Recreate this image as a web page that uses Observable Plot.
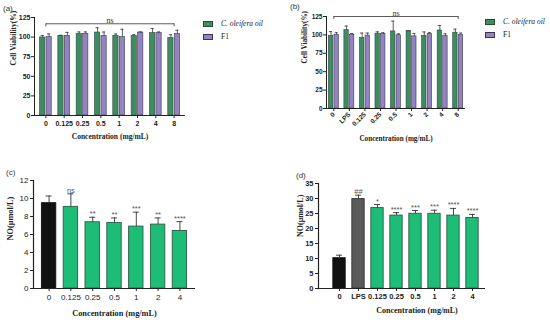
<!DOCTYPE html>
<html><head><meta charset="utf-8">
<script src="https://cdn.jsdelivr.net/npm/d3@7"></script>
<script src="https://cdn.jsdelivr.net/npm/@observablehq/plot@0.6"></script>
<style>
body{margin:0;background:#fff;width:550px;height:323px;position:relative;overflow:hidden;font-family:"Liberation Sans",Arial,sans-serif}
.panel{position:absolute}
.panel svg{overflow:visible}
.tag{position:absolute;font-size:8px;color:#333;font-family:"Liberation Sans",Arial,sans-serif}
.legend{position:absolute;font-family:"Liberation Serif","Times New Roman",serif;font-size:7.5px;color:#222;line-height:12.5px;white-space:nowrap}
.sw{display:inline-block;width:8px;height:4px;margin-right:8px;vertical-align:middle;border:0.8px solid #333}
</style></head><body>
<div class="tag" style="left:3px;top:4px">(a)</div>
<div class="tag" style="left:290px;top:2px">(b)</div>
<div class="tag" style="left:6px;top:168px">(c)</div>
<div class="tag" style="left:296px;top:171px">(d)</div>
<div id="pa" class="panel" style="left:0;top:0"></div>
<div id="pb" class="panel" style="left:275px;top:0"></div>
<div id="pc" class="panel" style="left:0;top:160px"></div>
<div id="pd" class="panel" style="left:275px;top:160px"></div>
<div id="la" class="legend" style="left:203px;top:18px"></div>
<div id="lb" class="legend" style="left:485px;top:16px"></div>
<script>
// ---------- data ----------
const seriesNames = ["C. oleifera oil", "F1"];

const concA = ["0","0.125","0.25","0.5","1","2","4","8"];
const oilA = [99.5,101.5,104,105.8,101.5,101.5,105,99];
const oilAErr = [2.5,0.8,2.6,6.2,2.5,1.5,6,4];
const f1A = [100,101.5,104,101.5,100,105.8,105,103.7];
const f1AErr = [4,4.5,2.6,5,10,0.8,1.6,5];
const ticksA = [0,25,50,75,100,125];
const bracketA = {from:"0", to:"8", y:117, tick:113, ty:121.5, label:"ns"};

const concB = ["0","LPS","0.125","0.25","0.5","1","2","4","8"];
const oilB = [98.5,106.5,96,101.7,104.7,105.1,98.8,106,103];
const oilBErr = [6,5.5,6.5,2.5,14,0.5,5.2,6.8,4.8];
const f1B = [100,100,99,101,99.5,98,101,98.5,100];
const f1BErr = [3,2,3.5,2,2,4,2,3,2.5];
const ticksB = [0,25,50,75,100,125];
const bracketB = {from:"0", to:"8", y:125, tick:121, ty:129, label:"ns"};

const concC = ["0","0.125","0.25","0.5","1","2","4"];
const noC = [9.48,9.07,7.36,7.29,6.88,7.1,6.39];
const noCErr = [0.8,1.45,0.56,0.55,1.6,0.74,1.04];
const sigC = ["","ns","**","**","***","**","****"];
const ticksC = [0,2,4,6,8,10,12];

const concD = ["0","LPS","0.125","0.25","0.5","1","2","4"];
const noD = [10.1,29.8,26.8,24.3,24.9,24.9,24.3,23.5];
const noDErr = [1.0,1.3,1.2,1.0,1.1,1.2,2.4,1.2];
const sigD = ["","##","*","****","***","***","****","****"];
const ticksD = [0,5,10,15,20,25,30,35];

const xTitle = "Concentration (mg/mL)";
const yTitleAB = "Cell Viability(%)";
const yTitleCD = "NO(μmol/L)";

// ---------- styles ----------
const SANS = "Liberation Sans, Arial, sans-serif";
const SERIF = "Liberation Serif, Times New Roman, serif";
const GREEN = "#3f8c63", GREEN_D = "#2a4a38";
const PURPLE = "#9384bf", PURPLE_D = "#3b3552";
const GREEN2 = "#1dbd78", GREEN2_D = "#2f5c45";
const BLACK = "#111", GRAY = "#5a5a5a";

function groupedPanel(p) {
  const n = p.conc.length;
  const step = (p.width - p.ml - p.mr) / (n - p.pi + 2 * p.po);
  const bw = step * (1 - p.pi);
  const barW = (bw - 1.2) / 2;
  const off = (bw - barW) / 2;
  const cap = 1.6;
  const oilRows = p.conc.map((c, i) => ({conc: c, v: p.oil[i], e: p.oilErr[i]}));
  const f1Rows = p.conc.map((c, i) => ({conc: c, v: p.f1[i], e: p.f1Err[i]}));
  const top = d => d.v + d.e;
  const b = p.bracket;
  return Plot.plot({
    width: p.width, height: p.height,
    marginLeft: p.ml, marginRight: p.mr, marginTop: p.mt, marginBottom: p.mb,
    style: {fontFamily: SANS, fontWeight: "bold", fontSize: p.fs + "px", color: "#222", background: "transparent"},
    x: {type: "band", domain: p.conc, paddingInner: p.pi, paddingOuter: p.po, round: false, label: null,
        tickSize: 3, tickPadding: p.tp, tickRotate: p.rotate || 0},
    y: {domain: [0, p.ymax], ticks: p.yticks, tickSize: 3, tickPadding: 1, label: null},
    marks: [
      Plot.barY(oilRows, {x: "conc", y: "v", fill: GREEN, stroke: GREEN_D, strokeWidth: 0.6, insetRight: bw - barW}),
      Plot.barY(f1Rows, {x: "conc", y: "v", fill: PURPLE, stroke: PURPLE_D, strokeWidth: 0.6, insetLeft: bw - barW}),
      Plot.ruleX(oilRows, {x: "conc", y1: "v", y2: top, dx: -off, stroke: "#333", strokeWidth: 0.8}),
      Plot.ruleX(f1Rows, {x: "conc", y1: "v", y2: top, dx: off, stroke: "#333", strokeWidth: 0.8}),
      Plot.tickY(oilRows, {x: "conc", y: top, insetLeft: bw / 2 - off - cap, insetRight: bw / 2 + off - cap, stroke: "#333", strokeWidth: 0.8}),
      Plot.tickY(f1Rows, {x: "conc", y: top, insetLeft: bw / 2 + off - cap, insetRight: bw / 2 - off - cap, stroke: "#333", strokeWidth: 0.8}),
      Plot.link([b], {x1: "from", x2: "to", y1: "y", y2: "y", stroke: "#333", strokeWidth: 0.8}),
      Plot.ruleX([b.from, b.to], {x: d => d, y1: b.tick, y2: b.y, stroke: "#333", strokeWidth: 0.8}),
      Plot.text([b], {y: "ty", text: "label", fontFamily: SERIF, fontWeight: "normal", fontSize: 8, fill: "#333"}),
      Plot.ruleY([0], {stroke: "#222", strokeWidth: 1}),
      Plot.frame({anchor: "left", stroke: "#222", strokeWidth: 1}),
      Plot.text([xTitle], {frameAnchor: "bottom", dy: p.xdy, fontFamily: SERIF, fontWeight: "bold", fontSize: p.tfs, fill: "#222"}),
      Plot.text([yTitleAB], {frameAnchor: "left", rotate: -90, dx: p.ydx, dy: p.ydy || 0, fontFamily: SERIF, fontWeight: "bold", fontSize: p.tfs, fill: "#222"})
    ]
  });
}

function singlePanel(p) {
  const n = p.conc.length;
  const rows = p.conc.map((c, i) => ({conc: c, v: p.v[i], e: p.err[i], sig: p.sig[i]}));
  const top = d => d.v + d.e;
  const fillOf = d => d.conc === "0" ? BLACK : d.conc === "LPS" ? GRAY : GREEN2;
  const strokeOf = d => d.conc === "0" ? BLACK : d.conc === "LPS" ? "#333" : GREEN2_D;
  const range = p.width - p.ml - p.mr - (p.inset || 0);
  const step = range / (n - p.pi + 2 * p.po);
  const bw = step * (1 - p.pi);
  const cap = 3;
  return Plot.plot({
    width: p.width, height: p.height,
    marginLeft: p.ml, marginRight: p.mr, marginTop: p.mt, marginBottom: p.mb,
    style: {fontFamily: SANS, fontWeight: p.bold ? "bold" : "normal", fontSize: p.fs + "px", color: "#222", background: "transparent"},
    color: {type: "identity"},
    x: {type: "band", domain: p.conc, paddingInner: p.pi, paddingOuter: p.po, round: false, label: null,
        insetLeft: p.inset || 0, tickSize: 3, tickPadding: p.tp},
    y: {domain: [0, p.ymax], ticks: p.yticks, tickSize: 3, tickPadding: 2, label: null},
    marks: [
      Plot.barY(rows, {x: "conc", y: "v", fill: fillOf, stroke: strokeOf, strokeWidth: 0.9}),
      Plot.ruleX(rows, {x: "conc", y1: "v", y2: top, stroke: "#333", strokeWidth: 0.9}),
      Plot.tickY(rows, {x: "conc", y: top, insetLeft: bw / 2 - cap, insetRight: bw / 2 - cap, stroke: "#333", strokeWidth: 0.9}),
      Plot.text(rows.filter(d => d.sig), {x: "conc", y: top, text: "sig", lineAnchor: "bottom", dy: -1,
        fontSize: 7.5, fontWeight: "normal", fontStyle: d => d.sig === "##" ? "italic" : "normal", fill: "#555"}),
      Plot.ruleY([0], {stroke: "#222", strokeWidth: 1.2}),
      Plot.frame({anchor: "left", stroke: "#222", strokeWidth: 1.2}),
      Plot.text([xTitle], {frameAnchor: "bottom", dy: p.xdy, dx: p.xdx || 0, fontFamily: SERIF, fontWeight: "bold", fontSize: p.tfs, fill: "#222"}),
      Plot.text([yTitleCD], {frameAnchor: "left", rotate: -90, dx: p.ydx, dy: p.ydy || 0, fontFamily: SERIF, fontWeight: "bold", fontSize: p.tfs, fill: "#222"})
    ]
  });
}

document.getElementById("pa").append(groupedPanel({
  conc: concA, oil: oilA, oilErr: oilAErr, f1: f1A, f1Err: f1AErr, yticks: ticksA, ymax: 125, bracket: bracketA,
  width: 195, height: 150, ml: 34, mr: 10, mt: 17, mb: 35, pi: 0.36, po: 0.3, fs: 7, tfs: 7.5, tp: 3, xdy: 23, ydx: -21, ydy: -1
}));
document.getElementById("pb").append(groupedPanel({
  conc: concB, oil: oilB, oilErr: oilBErr, f1: f1B, f1Err: f1BErr, yticks: ticksB, ymax: 125, bracket: bracketB,
  width: 200, height: 150, ml: 51, mr: 10, mt: 16, mb: 42, pi: 0.36, po: 0.15, fs: 6.5, tfs: 7.2, tp: 2, rotate: -45, xdy: 32, ydx: -22, ydy: 1
}));
document.getElementById("pc").append(singlePanel({
  conc: concC, v: noC, err: noCErr, sig: sigC, yticks: ticksC, ymax: 12,
  width: 200, height: 163, ml: 33, mr: 5, mt: 20, mb: 35, pi: 0.34, po: 0.385, fs: 8, tfs: 8.3, tp: 3, bold: false,
  xdy: 27, ydx: -23, ydy: 6
}));
document.getElementById("pd").append(singlePanel({
  conc: concD, v: noD, err: noDErr, sig: sigD, yticks: ticksD, ymax: 35,
  width: 215, height: 163, ml: 43, mr: 5, mt: 23, mb: 35, pi: 0.35, po: 0.36, inset: 8, fs: 7.5, tfs: 8, tp: 2, bold: true,
  xdy: 24, xdx: 15, ydx: -18, ydy: 1
}));

function legend(id) {
  const colors = [[GREEN, GREEN_D], [PURPLE, PURPLE_D]];
  const el = document.getElementById(id);
  seriesNames.forEach((name, i) => {
    const row = document.createElement("div");
    const sw = document.createElement("span");
    sw.className = "sw";
    sw.style.background = colors[i][0];
    sw.style.borderColor = colors[i][1];
    const t = document.createElement("span");
    t.textContent = name;
    if (i === 0) t.style.fontStyle = "italic";
    row.append(sw, t);
    el.append(row);
  });
}
legend("la");
legend("lb");
</script>
</body></html>
